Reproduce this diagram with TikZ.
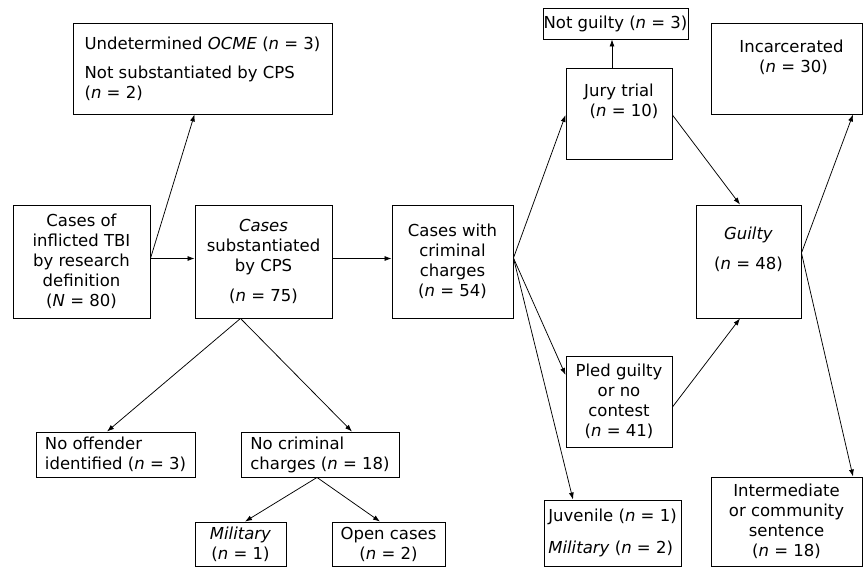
\documentclass[tikz,border=0pt]{standalone}
\usepackage{fontspec}
\setmainfont{DejaVu Sans}
\usetikzlibrary{arrows.meta}
\begin{document}
\begin{tikzpicture}[x=1pt,y=-1pt,
  box/.style={draw, line width=0.9pt, inner sep=0pt, align=center,
    font=\fontsize{16.5}{20}\selectfont},
  arr/.style={-{Latex[length=7pt,width=5pt]}, line width=0.75pt}]
\useasboundingbox (0,0) rectangle (866,568);
\newcommand{\nn}{\textit{n}}
% boxes
\node[box, minimum width=259pt, minimum height=91pt, align=left] (und) at (202.5,68.5)
  {Undetermined \textit{OCME} (\nn{} = 3)\\[9pt]Not substantiated by CPS\\(\nn{} = 2)};
\node[box, minimum width=137pt, minimum height=113pt] (tbi) at (81.5,261.5)
  {Cases of\\inflicted TBI\\by research\\definition\\(\textit{N} = 80)};
\node[box, minimum width=137pt, minimum height=113pt] (sub) at (263.5,261.5)
  {\textit{Cases}\\substantiated\\by CPS\\[10pt](\nn{} = 75)};
\node[box, minimum width=121pt, minimum height=113pt] (crim) at (452.5,261.5)
  {Cases with\\criminal\\charges\\(\nn{} = 54)};
\node[box, minimum width=145pt, minimum height=31pt] (ng) at (615.5,23.5)
  {Not guilty (\nn{} = 3)};
\node[box, minimum width=106pt, minimum height=91pt] (jury) at (619,113.5)
  {Jury trial\\\hspace*{10pt}(\nn{} = 10)\\[6pt]};
\node[box, minimum width=151pt, minimum height=91pt] (inc) at (786.5,68.5)
  {\hspace*{10pt}Incarcerated\\\hspace*{14pt}(\nn{} = 30)\\[4pt]};
\node[box, minimum width=105pt, minimum height=113pt] (guilty) at (748.5,261.5)
  {\textit{Guilty}\\[10pt](\nn{} = 48)\\[6pt]};
\node[box, minimum width=106pt, minimum height=91pt] (pled) at (619,401.5)
  {Pled guilty\\or no\\contest\\(\nn{} = 41)};
\node[box, minimum width=137pt, minimum height=66pt, align=left] (juv) at (612.5,533)
  {Juvenile (\nn{} = 1)\\[12pt]\textit{Military} (\nn{} = 2)};
\node[box, minimum width=151pt, minimum height=89pt] (interm) at (786.5,521.5)
  {Intermediate\\or community\\sentence\\(\nn{} = 18)};
\node[box, minimum width=159pt, minimum height=45pt, align=left] (nooff) at (115.5,454.5)
  {No offender\\identified (\nn{} = 3)};
\node[box, minimum width=158pt, minimum height=45pt, align=left] (nocrim) at (320,454.5)
  {No criminal\\charges~(\nn{} = 18)};
\node[box, minimum width=91pt, minimum height=44pt] (mil) at (240.5,544)
  {\textit{Military}\\(\nn{} = 1)};
\node[box, minimum width=113pt, minimum height=44pt] (open) at (388.5,544)
  {Open cases\\(\nn{} = 2)};
% connectors
\coordinate (tbiE) at ([yshift=3pt]tbi.east);
\draw[arr] (tbiE) -- ([yshift=3pt]sub.west);
\draw[arr] (tbiE) -- ([xshift=-8pt]und.south);
\draw[arr] ([yshift=3pt]sub.east) -- ([yshift=3pt]crim.west);
\coordinate (subS) at ([xshift=-23pt]sub.south);
\draw[arr] (subS) -- ([xshift=-8.5pt]nooff.north);
\draw[arr] (subS) -- ([xshift=32pt]nocrim.north);
\coordinate (nocrimS) at ([xshift=-3pt]nocrim.south);
\draw[arr] (nocrimS) -- ([xshift=4.5pt]mil.north);
\draw[arr] (nocrimS) -- ([xshift=-8.5pt]open.north);
\coordinate (crimE) at ([yshift=3.5pt]crim.east);
\draw[arr] (crimE) -- ([yshift=-1.5pt]jury.west);
\draw[arr] (crimE) -- ([yshift=26.5pt]pled.west);
\draw[arr] (crimE) -- ([xshift=-39.5pt]juv.north);
\draw[arr] ([xshift=-7pt]jury.north) -- ([xshift=-7pt]jury.north |- ng.south);
\draw[arr] ([yshift=-1.5pt]jury.east) -- ([xshift=-8.5pt]guilty.north);
\draw[arr] ([yshift=-5.5pt]pled.east) -- ([xshift=-8.5pt]guilty.south);
\coordinate (guiltyE) at ([yshift=8.5pt]guilty.east);
\draw[arr] (guiltyE) -- ([xshift=66.5pt]inc.south);
\draw[arr] (guiltyE) -- ([xshift=66.5pt]interm.north);
\end{tikzpicture}
\end{document}
